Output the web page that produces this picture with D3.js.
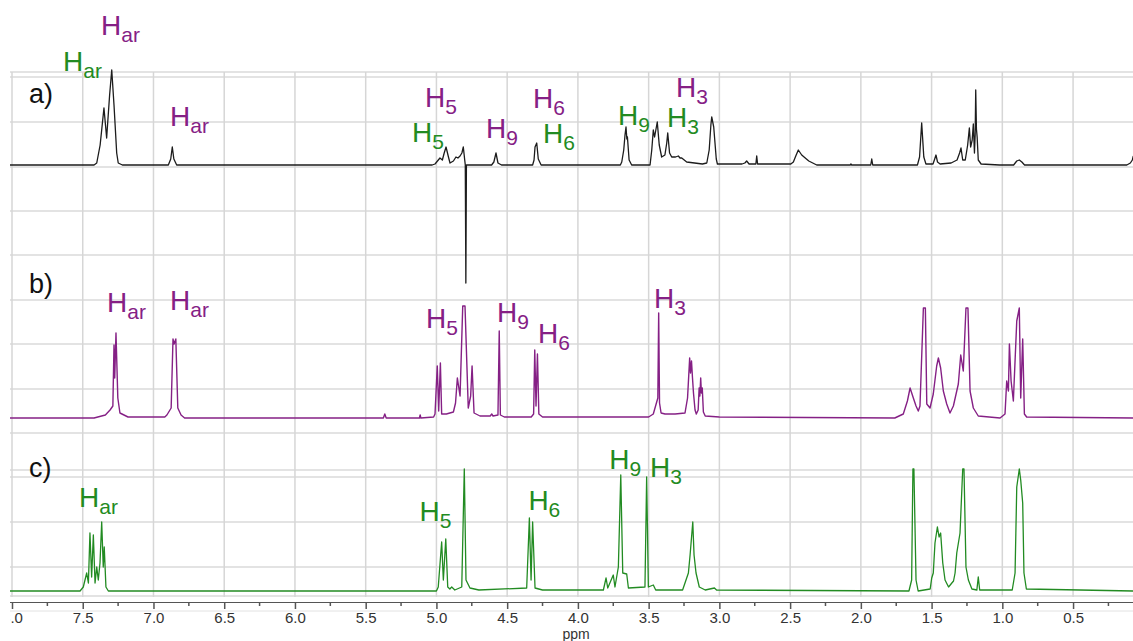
<!DOCTYPE html>
<html>
<head>
<meta charset="utf-8">
<title>NMR spectra a) b) c)</title>
<script src="https://cdn.jsdelivr.net/npm/d3@7"></script>
<style>
  body { margin:0; background:#fff; }
  svg { display:block; font-family:"Liberation Sans", Arial, sans-serif; }
</style>
</head>
<body>
<div id="chart"></div>
<script>
// spectra, [ppm, intensity]
var spectrumA = [
  [8.02,0],[7.42,0],[7.401,2],[7.377,20],[7.350,57],[7.331,27],[7.310,70],[7.295,95],[7.279,60],[7.260,12],[7.249,2],[7.22,0],
  [6.895,0],[6.878,6],[6.867,18],[6.856,6],[6.836,0],
  [5.03,0],[5.010,1],[4.975,7],[4.958,5],[4.945,12],[4.932,18],[4.915,8],[4.904,2],[4.880,4],[4.862,8],[4.848,7],[4.833,9],[4.820,12],[4.810,18],[4.800,5],[4.796,0],
  [4.792,-118],[4.788,0],[4.775,0],
  [4.61,0],[4.594,3],[4.579,12],[4.565,2],[4.54,0],
  [4.32,0],[4.310,5],[4.303,18],[4.291,22],[4.280,6],[4.26,0],
  [3.700,0],[3.690,3],[3.676,15],[3.667,30],[3.660,38],[3.654,26],[3.650,28],[3.638,5],[3.62,0],
  [3.490,0],[3.478,15],[3.467,35],[3.458,28],[3.439,43],[3.425,20],[3.408,8],[3.385,10],[3.372,22],[3.365,32],[3.352,12],[3.337,8],[3.310,8],[3.290,9],[3.278,7],[3.266,7],[3.231,3],[3.12,1],
  [3.089,2],[3.072,15],[3.060,40],[3.054,48],[3.040,38],[3.022,6],[3.014,1],
  [2.84,1],[2.820,2],[2.807,4],[2.790,1],[2.742,1],[2.736,9],[2.730,1],
  [2.495,1],[2.477,3],[2.460,9],[2.442,15],[2.418,10],[2.368,4],[2.312,0],[2.075,0],[2.070,1],[2.065,0],
  [1.930,0],[1.923,6],[1.916,0],
  [1.600,0],[1.585,8],[1.570,42],[1.555,8],[1.540,1],[1.490,1],[1.478,6],[1.469,10],[1.458,3],[1.440,1],
  [1.362,2],[1.320,5],[1.302,12],[1.292,17],[1.280,5],[1.262,5],[1.245,20],[1.233,37],[1.224,18],[1.213,25],[1.205,41],[1.197,12],[1.192,30],[1.188,75],[1.183,36],[1.178,28],[1.170,5],[1.150,1],[1.02,0],
  [0.920,0],[0.898,4],[0.880,5],[0.862,3],[0.843,0],
  [0.12,0],[0.095,2],[0.081,5],[0.074,9]
];

var spectrumB = [
  [8.02,0],[7.42,0],[7.34,3],[7.307,8],[7.287,12],[7.279,73],[7.274,40],[7.265,85],[7.252,20],[7.237,5],[7.18,1],
  [6.92,1],[6.905,3],[6.875,10],[6.862,79],[6.854,74],[6.842,79],[6.828,10],[6.805,3],[6.78,0],
  [5.375,0],[5.365,4],[5.355,0],[5.12,0],[5.115,3],[5.11,0],
  [5.02,1],[5.010,4],[4.994,52],[4.984,7],[4.972,55],[4.963,4],[4.93,4],
  [4.88,6],[4.865,15],[4.852,40],[4.833,22],[4.814,112],[4.798,112],[4.775,10],[4.758,22],[4.748,52],[4.734,5],[4.692,2],
  [4.62,2],[4.609,4],[4.600,2],[4.565,3],[4.556,87],[4.548,3],[4.52,1],
  [4.330,1],[4.313,4],[4.305,68],[4.296,12],[4.286,64],[4.276,4],[4.25,1],
  [3.50,1],[3.467,4],[3.435,20],[3.429,105],[3.423,15],[3.412,5],[3.384,4],[3.313,4],
  [3.243,5],[3.225,20],[3.210,60],[3.204,45],[3.197,57],[3.190,40],[3.183,25],[3.172,8],[3.163,4],
  [3.150,8],[3.143,30],[3.138,22],[3.132,40],[3.127,25],[3.121,30],[3.113,6],[3.10,2],[3.0,1],
  [1.76,0],[1.700,4],[1.671,17],[1.652,30],[1.629,20],[1.610,12],[1.594,7],[1.582,12],[1.558,110],[1.544,110],[1.534,14],
  [1.511,10],[1.488,24],[1.464,52],[1.452,60],[1.436,50],[1.417,27],[1.393,14],[1.370,5],[1.346,12],
  [1.311,34],[1.294,63],[1.276,47],[1.257,110],[1.243,110],[1.228,27],[1.205,10],[1.170,2],[1.016,0],
  [0.981,4],[0.969,37],[0.957,27],[0.950,74],[0.938,37],[0.922,17],[0.898,97],[0.880,110],[0.870,20],[0.856,79],[0.844,4],[0.828,1],
  [0.07,0]
];

var spectrumC = [
  [8.02,0],[7.519,0],[7.496,4],[7.472,18],[7.460,8],[7.449,58],[7.437,14],[7.425,56],[7.413,8],[7.401,24],[7.390,11],[7.378,28],[7.366,69],[7.355,24],[7.348,44],[7.336,4],[7.319,0],
  [5.00,0],[4.987,4],[4.963,49],[4.951,11],[4.934,52],[4.920,4],[4.905,2],[4.892,4],[4.87,1],[4.821,4],[4.803,122],[4.791,11],[4.763,3],[4.70,1],
  [4.362,3],[4.343,73],[4.331,11],[4.320,69],[4.303,3],[4.25,1],
  [3.82,1],[3.801,13],[3.789,3],[3.750,16],[3.738,4],[3.714,24],[3.697,116],[3.683,18],[3.655,17],[3.643,3],
  [3.526,4],[3.514,114],[3.502,4],[3.467,6],[3.45,1],
  [3.26,1],[3.243,8],[3.219,18],[3.207,36],[3.188,69],[3.179,36],[3.165,18],[3.142,4],[3.10,1],[3.035,3],[3.02,1],
  [1.66,0],[1.641,11],[1.632,122],[1.625,122],[1.610,11],[1.595,0],
  [1.510,2],[1.499,13],[1.488,18],[1.476,48],[1.459,64],[1.447,54],[1.436,58],[1.421,28],[1.405,11],[1.380,4],
  [1.345,10],[1.334,18],[1.322,38],[1.299,58],[1.280,122],[1.271,122],[1.257,24],[1.240,11],[1.215,2],
  [1.180,1],[1.170,14],[1.160,1],
  [0.930,1],[0.910,18],[0.898,104],[0.880,122],[0.870,111],[0.856,88],[0.847,18],[0.830,2],[0.07,0]
];

var tickValues = [8.0,7.5,7.0,6.5,6.0,5.5,5.0,4.5,4.0,3.5,3.0,2.5,2.0,1.5,1.0,0.5];
var minorTicks = [7.75,7.25,6.75,6.25,5.75,5.25,4.75,4.25,3.75,3.25,2.75,2.25,1.75,1.25,0.75,0.25];
var panelNames = ["a)","b)","c)"];

// peak labels: subscript, colour key, ppm of left edge, level above that panel's baseline
var labelsA = [
  ["ar","g",7.639,94],["ar","p",7.371,130],["ar","p",6.883,39],
  ["5","p",5.081,58],["5","g",5.173,23],["9","p",4.649,27],
  ["6","p",4.317,57],["6","g",4.247,22],["9","g",3.716,40],
  ["3","g",3.370,38],["3","p",3.306,68]
];
var labelsB = [
  ["ar","p",7.328,106],["ar","p",6.883,108],["5","p",5.074,90],
  ["9","p",4.572,96],["6","p",4.282,75],["3","p",3.462,110]
];
var labelsC = [
  ["ar","g",7.526,84],["5","g",5.120,70],["6","g",4.350,81],
  ["9","g",3.778,122],["3","g",3.490,114]
];

var W = 1133, H = 641;
var colors = {p:"#852085", g:"#228b22", k:"#1c1c1c"};

var svg = d3.select("#chart").append("svg").attr("width",W).attr("height",H);
svg.append("defs").append("clipPath").attr("id","clip")
  .append("rect").attr("x",10).attr("y",0).attr("width",W-10).attr("height",H);

var x = d3.scaleLinear().domain([8,0]).range([12,1143.8]);

// background grid
var grid = svg.append("g").attr("clip-path","url(#clip)");
var hLines = [72,77,122,167,211,255,300,344,389,433,470,477,522,567,596];
grid.selectAll(".h").data(hLines).enter().append("line")
  .attr("x1",10).attr("x2",W).attr("y1",d=>d).attr("y2",d=>d)
  .attr("stroke","#dadada").attr("stroke-width",1.5);
grid.selectAll(".v").data(tickValues).enter().append("line")
  .attr("x1",d=>x(d)).attr("x2",d=>x(d)).attr("y1",72).attr("y2",597)
  .attr("stroke","#d6d6d6").attr("stroke-width",1.5);

// panels
var panels = [
  {data:spectrumA, base:165, color:colors.k, labels:labelsA, name:panelNames[0], nameY:103, width:1.3},
  {data:spectrumB, base:418, color:colors.p, labels:labelsB, name:panelNames[1], nameY:293, width:1.4},
  {data:spectrumC, base:591, color:colors.g, labels:labelsC, name:panelNames[2], nameY:477, width:1.3}
];

panels.forEach(function(p){
  var y = d3.scaleLinear().domain([0,100]).range([p.base,p.base-100]);
  var line = d3.line().x(d=>x(d[0])).y(d=>y(d[1]));
  svg.append("path")
    .attr("clip-path","url(#clip)")
    .attr("d",line(p.data))
    .attr("fill","none")
    .attr("stroke",p.color)
    .attr("stroke-width",p.width)
    .attr("stroke-linejoin","round");

  svg.append("text").attr("x",29).attr("y",p.nameY)
    .attr("font-size",27).attr("fill","#111").text(p.name);

  p.labels.forEach(function(l){
    var t = svg.append("text")
      .attr("x",x(l[2])).attr("y",y(l[3]))
      .attr("fill",colors[l[1]]);
    t.append("tspan").attr("font-size",28).text("H");
    t.append("tspan").attr("font-size",21).attr("dy",7).text(l[0]);
  });
});

// ppm axis
var axisG = svg.append("g").attr("transform","translate(0,602)").attr("clip-path","url(#clip)");
axisG.append("line").attr("x1",10).attr("x2",W).attr("y1",0).attr("y2",0)
  .attr("stroke","#555").attr("stroke-width",2);
var axis = d3.axisBottom(x).tickValues(tickValues).tickSize(7).tickPadding(3)
  .tickFormat(d3.format(".1f"));
var ag = axisG.append("g").call(axis);
ag.select(".domain").remove();
ag.selectAll(".tick line").attr("stroke","#555").attr("stroke-width",1.5);
ag.selectAll(".tick text").attr("font-size",15).attr("fill","#333")
  .attr("font-family","\"Liberation Sans\", Arial, sans-serif");
axisG.selectAll(".minor").data(minorTicks).enter().append("line")
  .attr("x1",d=>x(d)).attr("x2",d=>x(d)).attr("y1",0).attr("y2",4)
  .attr("stroke","#555").attr("stroke-width",1.5);
axisG.append("line").attr("x1",10).attr("x2",W).attr("y1",9).attr("y2",9)
  .attr("stroke","#e2e2e2").attr("stroke-width",1);

svg.append("text").attr("x",576).attr("y",639).attr("text-anchor","middle")
  .attr("font-size",14).attr("fill","#333").text("ppm");
</script>
</body>
</html>
